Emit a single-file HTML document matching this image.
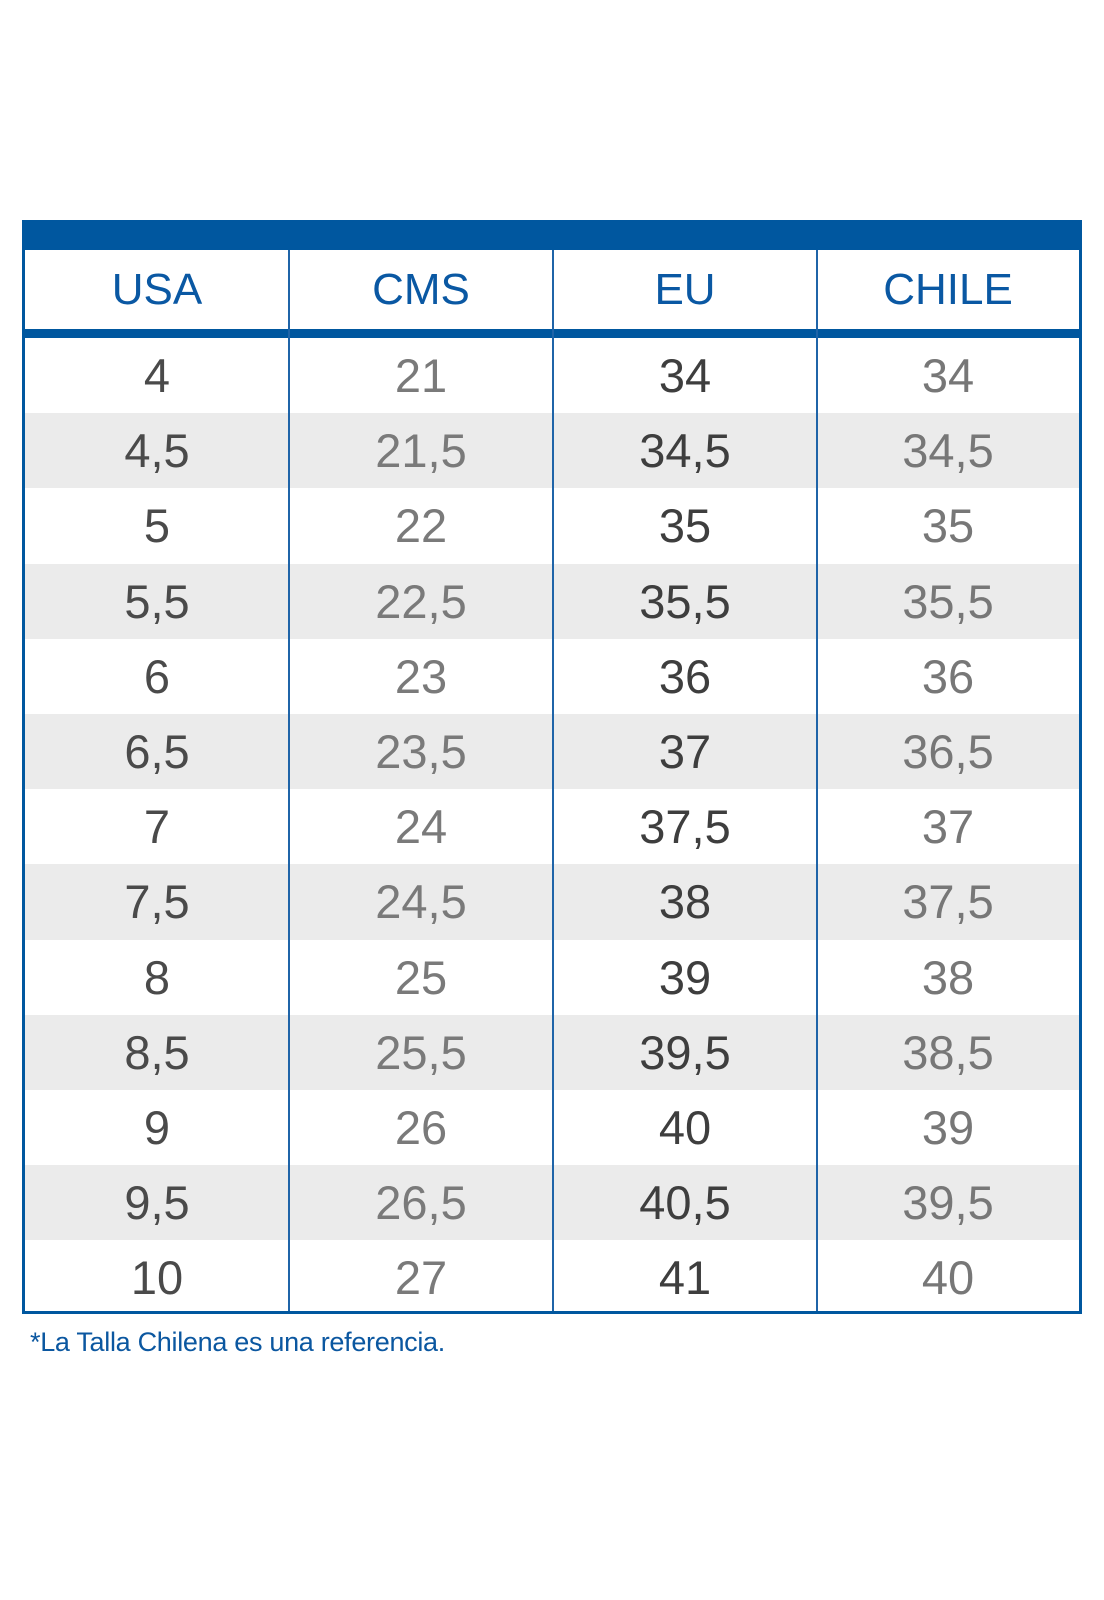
<!DOCTYPE html>
<html><head><meta charset="utf-8"><style>
body{margin:0;width:1104px;height:1600px;background:#fff;font-family:"Liberation Sans",sans-serif;position:relative;overflow:hidden}
.bar{position:absolute;left:22px;top:220px;width:1060px;height:30px;background:#00579f}
.box{position:absolute;left:22px;top:250px;width:1054px;height:1061px;border:3px solid #00579f;border-top:none}
.hdr{position:absolute;left:0;top:0;width:100%;height:79px}
.hline{position:absolute;left:0;top:79px;width:100%;height:9px;background:#00579f}
.row{position:absolute;left:0;width:100%;height:75.2px}
.g{background:#ebebeb}
.c{position:absolute;top:0;height:100%;display:flex;align-items:center;justify-content:center;font-size:47px}
.vl{position:absolute;top:0;width:2px;height:100%;background:#1f64a8}
.h .c{color:#0a58a3;font-size:44px}
.d1{color:#4a4a4a}.d2{color:#7a7a7a}.d3{color:#3e3e3e}.d4{color:#777}
.foot{position:absolute;left:30px;top:1327px;font-size:27px;color:#0b57a0;letter-spacing:-0.3px}
</style></head><body>
<div class="bar"></div>
<div class="box">
<div class="hdr h">
<div class="c" style="left:0;width:264px">USA</div>
<div class="c" style="left:264px;width:264px">CMS</div>
<div class="c" style="left:528px;width:264px">EU</div>
<div class="c" style="left:792px;width:262px">CHILE</div>
</div>
<div class="hline"></div>
<div id="rows"></div>
<div class="vl" style="left:263px"></div>
<div class="vl" style="left:527px"></div>
<div class="vl" style="left:791px"></div>
</div>
<div class="foot">*La Talla Chilena es una referencia.</div>
<script>
var d=[["4","21","34","34"],["4,5","21,5","34,5","34,5"],["5","22","35","35"],["5,5","22,5","35,5","35,5"],["6","23","36","36"],["6,5","23,5","37","36,5"],["7","24","37,5","37"],["7,5","24,5","38","37,5"],["8","25","39","38"],["8,5","25,5","39,5","38,5"],["9","26","40","39"],["9,5","26,5","40,5","39,5"],["10","27","41","40"]];
var h="";var L=[0,264,528,792],W=[264,264,264,262];
d.forEach(function(r,i){h+='<div class="row'+(i%2?' g':'')+'" style="top:'+(88+i*75.2)+'px">';r.forEach(function(v,j){h+='<div class="c d'+(j+1)+'" style="left:'+L[j]+'px;width:'+W[j]+'px">'+v+'</div>'});h+='</div>'});
document.getElementById("rows").outerHTML=h;
</script>
</body></html>
